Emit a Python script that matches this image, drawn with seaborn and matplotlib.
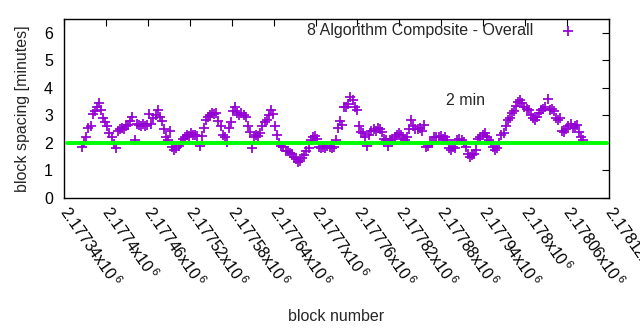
import numpy as np
import pandas as pd
import matplotlib
matplotlib.use("Agg")
import matplotlib.pyplot as plt
import seaborn as sns

# Block spacing (minutes) sampled every third block
first_block = 2177366
block_step = 3
spacing_minutes = [
    1.87, 2.05, 2.20, 2.55, 2.60, 3.05, 3.15, 3.30, 3.45, 3.20,
    2.90, 2.75, 2.60, 2.35, 2.20, 1.95, 1.80, 2.45, 2.50, 2.55,
    2.50, 2.60, 2.65, 2.80, 2.95, 2.10, 2.70, 2.65, 2.60, 2.70,
    2.60, 2.65, 3.05, 2.70, 2.90, 3.00, 3.20, 2.95, 2.80, 2.50,
    2.20, 2.10, 2.45, 1.85, 1.75, 1.80, 1.90, 2.00, 2.15, 2.20,
    2.30, 2.25, 2.35, 2.30, 2.30, 2.25, 1.90, 2.25, 2.55, 2.85,
    2.95, 3.00, 3.10, 3.05, 3.10, 2.80, 2.60, 2.30, 2.20, 2.05,
    2.55, 2.75, 3.15, 3.30, 3.10, 3.00, 3.10, 3.00, 2.95, 2.60,
    2.40, 1.80, 2.20, 2.30, 2.25, 2.35, 2.60, 2.75, 2.85, 3.00,
    3.20, 3.05, 2.60, 2.30, 2.00, 1.90, 1.85, 1.70, 1.70, 1.65,
    1.60, 1.50, 1.40, 1.30, 1.35, 1.45, 1.55, 1.70, 1.80, 2.10,
    2.20, 2.25, 2.15, 1.85, 1.80, 1.85, 1.80, 1.90, 1.85, 1.80,
    1.85, 2.10, 2.55, 2.80, 2.65, 3.30, 3.30, 3.40, 3.65, 3.55,
    3.30, 3.20, 2.60, 2.40, 2.35, 2.20, 1.90, 2.30, 2.45, 2.50,
    2.45, 2.55, 2.50, 2.40, 2.15, 2.10, 1.90, 2.10, 2.15, 2.20,
    2.30, 2.35, 2.30, 2.15, 2.10, 2.20, 2.50, 2.85, 2.60, 2.50,
    2.50, 2.55, 2.45, 2.65, 1.85, 1.90, 2.00, 2.00, 2.20, 2.20,
    2.20, 2.25, 2.15, 2.20, 2.10, 1.80, 1.75, 1.85, 1.80, 2.10,
    2.15, 2.10, 2.05, 1.85, 1.60, 1.50, 1.55, 1.60, 1.75, 2.15,
    2.20, 2.30, 2.35, 2.20, 2.10, 2.05, 1.85, 1.75, 1.80, 2.00,
    2.30, 2.35, 2.60, 2.85, 2.90, 3.10, 3.15, 3.35, 3.50, 3.55,
    3.45, 3.30, 3.25, 3.20, 3.00, 2.90, 2.85, 2.95, 3.10, 3.20,
    3.25, 3.30, 3.60, 3.20, 3.25, 3.15, 2.90, 2.85, 2.90, 2.45,
    2.40, 2.50, 2.60, 2.70, 2.55, 2.60, 2.65, 2.40, 2.20, 2.10,
]
block_numbers = first_block + block_step * np.arange(len(spacing_minutes))

target_minutes = 2
tick_blocks = [2177340, 2177400, 2177460, 2177520, 2177580, 2177640, 2177700,
               2177760, 2177820, 2177880, 2177940, 2178000, 2178060, 2178120]
tick_mantissas = ["2.17734", "2.1774", "2.17746", "2.17752", "2.17758", "2.17764",
                  "2.1777", "2.17776", "2.17782", "2.17788", "2.17794", "2.178",
                  "2.17806", "2.17812"]
y_ticks = [0, 1, 2, 3, 4, 5, 6]

sns.set_style("white")
plt.rcParams["font.family"] = ["Liberation Sans", "DejaVu Sans"]
plt.rcParams["mathtext.default"] = "regular"
fs = 11.5

fig = plt.figure(figsize=(6.4, 3.3), dpi=100)
ax = fig.add_axes([0.1, 0.4, 0.8516, 0.5424])

df = pd.DataFrame({"block": block_numbers, "spacing": spacing_minutes})
sns.scatterplot(data=df, x="block", y="spacing", marker="+", s=48,
                color="#9400d3", linewidth=1.25,
                label="8 Algorithm Composite - Overall", ax=ax, zorder=2)
ax.axhline(target_minutes, xmin=0.005, xmax=0.996, color="#00ff00", lw=2.8, zorder=3)
ax.text(2177914, 3.53, "2 min", ha="center", va="center", fontsize=fs)

ax.set_xlim(tick_blocks[0], tick_blocks[-1])
ax.set_ylim(0, 6.5)
ax.set_yticks(y_ticks)
ax.set_xticks(tick_blocks)
ax.set_xticklabels([m + "x10$^{\\,6}$" for m in tick_mantissas], rotation=-55,
                   ha="left", va="center", rotation_mode="anchor")
ax.tick_params(direction="in", length=5, width=0.8, top=True, right=True,
               labelsize=fs, colors="black", pad=8)
ax.tick_params(axis="x", pad=7)
for sp in ax.spines.values():
    sp.set_color("black")
    sp.set_linewidth(1.0)

ax.set_xlabel("block number", fontsize=fs, labelpad=14)
ax.set_ylabel("block spacing [minutes]", fontsize=fs, labelpad=10)

ax.legend(loc="upper right", bbox_to_anchor=(0.954, 0.975), markerfirst=False,
          frameon=False, handletextpad=1.2, borderpad=0, borderaxespad=0,
          fontsize=fs)

fig.savefig("out.png", dpi=100)
